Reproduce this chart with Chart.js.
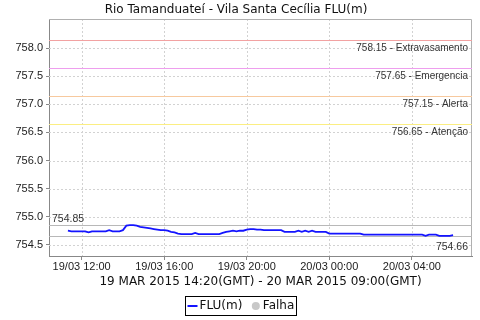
<!DOCTYPE html>
<html>
<head>
<meta charset="utf-8">
<script src="https://cdn.jsdelivr.net/npm/chart.js@4.4.0/dist/chart.umd.min.js"></script>
<style>
    html, body { margin: 0; padding: 0; background: #fff; }
    #wrap { width: 480px; height: 320px; }
</style>
</head>
<body>
<div id="wrap"><canvas id="fluChart" width="480" height="320"></canvas></div>
<script>
// LEITURAS - FLU(m) a cada 10 minutos, início 19/03 11:20 (hora local)
const startMinute = 11 * 60 + 20;
const stepMinutes = 10;
const fluValues = [
    754.75, 754.74, 754.74, 754.74, 754.74, 754.74, 754.72, 754.74, 754.74, 754.74,
    754.74, 754.74, 754.76, 754.74, 754.74, 754.74, 754.76, 754.84, 754.85, 754.85,
    754.84, 754.82, 754.81, 754.80, 754.79, 754.78, 754.77, 754.76, 754.76, 754.75,
    754.73, 754.72, 754.70, 754.69, 754.69, 754.69, 754.69, 754.71, 754.69, 754.69,
    754.69, 754.69, 754.69, 754.69, 754.69, 754.71, 754.73, 754.74, 754.75, 754.74,
    754.75, 754.75, 754.77, 754.78, 754.78, 754.77, 754.77, 754.76, 754.76, 754.76,
    754.76, 754.76, 754.76, 754.73, 754.73, 754.73, 754.73, 754.75, 754.73, 754.75,
    754.73, 754.75, 754.73, 754.73, 754.73, 754.73, 754.70, 754.70, 754.70, 754.70,
    754.70, 754.70, 754.70, 754.70, 754.70, 754.70, 754.68, 754.68, 754.68, 754.68,
    754.68, 754.68, 754.68, 754.68, 754.68, 754.68, 754.68, 754.68, 754.68, 754.68,
    754.68, 754.68, 754.68, 754.68, 754.66, 754.68, 754.68, 754.68, 754.66, 754.66,
    754.66, 754.66, 754.67
];
const falhaValues = [];

// EIXOS
const yTickValues = [754.5, 755.0, 755.5, 756.0, 756.5, 757.0, 757.5, 758.0];
const xTickValues = [720, 960, 1200, 1440, 1680];
const xTickLabels = ['19/03 12:00', '19/03 16:00', '19/03 20:00', '20/03 00:00', '20/03 04:00'];
const xMin = 625, xMax = 1855;
const yMin = 754.30, yMax = 758.52;

// COTAS DE ALERTA
const thresholdValues = [758.15, 757.65, 757.15, 756.65];
const thresholdNames = ['Extravasamento', 'Emergencia', 'Alerta', 'Atenção'];
const thresholdColors = ['#f2a2a2', '#ee9eee', '#f7c99e', '#fbee82'];

const chartTitle = 'Rio Tamanduateí - Vila Santa Cecília FLU(m)';
const chartSubtitle = '19 MAR 2015 14:20(GMT) - 20 MAR 2015 09:00(GMT)';

const fluPoints = fluValues.map((v, i) => ({ x: startMinute + i * stepMinutes, y: v }));

// grade tracejada, linhas de cota, máximo/mínimo e moldura
const markersPlugin = {
    id: 'markers',
    beforeDatasetsDraw(chart) {
        const { ctx, chartArea } = chart;
        const y = chart.scales.y;
        const x = chart.scales.x;
        ctx.save();

        ctx.strokeStyle = '#d2d2d2';
        ctx.lineWidth = 1;
        ctx.setLineDash([2, 2]);
        ctx.beginPath();
        xTickValues.forEach(v => {
            const px = Math.round(x.getPixelForValue(v)) + 0.5;
            ctx.moveTo(px, chartArea.top);
            ctx.lineTo(px, chartArea.bottom);
        });
        yTickValues.forEach(v => {
            const py = Math.round(y.getPixelForValue(v)) + 0.5;
            ctx.moveTo(chartArea.left, py);
            ctx.lineTo(chartArea.right, py);
        });
        ctx.stroke();
        ctx.setLineDash([]);

        // moldura superior / direita
        ctx.strokeStyle = '#b0b0b0';
        ctx.beginPath();
        ctx.moveTo(chartArea.left, chartArea.top + 0.5);
        ctx.lineTo(chartArea.right - 0.5, chartArea.top + 0.5);
        ctx.lineTo(chartArea.right - 0.5, chartArea.bottom);
        ctx.stroke();

        ctx.font = '10px "Liberation Sans"';
        ctx.fillStyle = '#333';
        ctx.textAlign = 'right';
        ctx.textBaseline = 'middle';
        thresholdValues.forEach((v, i) => {
            const py = Math.round(y.getPixelForValue(v)) + 0.5;
            ctx.strokeStyle = thresholdColors[i];
            ctx.beginPath();
            ctx.moveTo(chartArea.left, py);
            ctx.lineTo(chartArea.right, py);
            ctx.stroke();
            ctx.fillText(v.toFixed(2) + ' - ' + thresholdNames[i], chartArea.right - 4, py + 8);
        });

        // máximo e mínimo da série
        const maxV = Math.max(...fluValues);
        const minV = Math.min(...fluValues);
        const pMax = Math.round(y.getPixelForValue(maxV)) + 0.5;
        const pMin = Math.round(y.getPixelForValue(minV)) + 0.5;
        ctx.strokeStyle = '#b8b8b8';
        ctx.beginPath();
        ctx.moveTo(chartArea.left, pMax); ctx.lineTo(chartArea.right, pMax);
        ctx.moveTo(chartArea.left, pMin); ctx.lineTo(chartArea.right, pMin);
        ctx.stroke();

        ctx.font = '10.5px "Liberation Sans"';
        ctx.textBaseline = 'alphabetic';
        ctx.textAlign = 'left';
        ctx.fillText(maxV.toFixed(2), chartArea.left + 3, pMax - 4);
        ctx.textAlign = 'right';
        ctx.fillText(minV.toFixed(2), chartArea.right - 4, pMin + 13);
        ctx.restore();
    }
};

// legenda com moldura
const boxLegendPlugin = {
    id: 'boxLegend',
    afterDraw(chart) {
        const ctx = chart.ctx;
        const ds = chart.data.datasets;
        ctx.save();
        ctx.font = '12px "DejaVu Sans"';
        const w1 = ctx.measureText(ds[0].label).width;
        const w2 = ctx.measureText(ds[1].label).width;
        const boxW = Math.round(2 + 10 + 2 + w1 + 9.5 + 8 + 3 + w2 + 2);
        const left = Math.round((chart.width - boxW) / 2) + 0.5;
        const top = 296.5, h = 19, cy = 306;

        ctx.strokeStyle = '#000';
        ctx.lineWidth = 1;
        ctx.strokeRect(left, top, boxW, h);

        let x = left + 2;
        ctx.strokeStyle = ds[0].borderColor;
        ctx.lineWidth = 2;
        ctx.beginPath();
        ctx.moveTo(x, cy); ctx.lineTo(x + 10, cy);
        ctx.stroke();
        x += 12;
        ctx.fillStyle = '#111';
        ctx.textBaseline = 'middle';
        ctx.fillText(ds[0].label, x, cy);
        x += w1 + 9.5;
        ctx.fillStyle = ds[1].backgroundColor;
        ctx.beginPath();
        ctx.arc(x + 4, cy, 4, 0, Math.PI * 2);
        ctx.fill();
        x += 11;
        ctx.fillStyle = '#111';
        ctx.fillText(ds[1].label, x, cy);
        ctx.restore();
    }
};

const tickFont = { family: 'Liberation Sans', size: 11 };

new Chart(document.getElementById('fluChart'), {
    type: 'line',
    data: {
        datasets: [
            {
                label: 'FLU(m)',
                data: fluPoints,
                borderColor: '#1414ff',
                backgroundColor: '#1414ff',
                borderWidth: 1.8,
                pointRadius: 0,
                tension: 0
            },
            {
                label: 'Falha',
                data: falhaValues,
                borderColor: '#c8c8c8',
                backgroundColor: '#c8c8c8',
                showLine: false,
                pointRadius: 4
            }
        ]
    },
    options: {
        responsive: false,
        animation: false,
        devicePixelRatio: 1,
        layout: { padding: { left: 0, right: 8, top: 0, bottom: 30.6 } },
        scales: {
            x: {
                type: 'linear',
                min: xMin,
                max: xMax,
                afterBuildTicks: s => { s.ticks = xTickValues.map(v => ({ value: v })); },
                afterFit: s => { s.height = 19; },
                ticks: {
                    font: tickFont,
                    color: '#222',
                    padding: 0,
                    maxRotation: 0,
                    autoSkip: false,
                    callback: (v, i) => xTickLabels[i]
                },
                grid: { drawOnChartArea: false, tickColor: '#888', tickLength: 4 },
                border: { color: '#888' }
            },
            y: {
                type: 'linear',
                min: yMin,
                max: yMax,
                afterBuildTicks: s => { s.ticks = yTickValues.map(v => ({ value: v })); },
                afterFit: s => { s.width = 49; },
                ticks: {
                    font: tickFont,
                    color: '#222',
                    padding: 3,
                    callback: v => v.toFixed(1)
                },
                grid: { drawOnChartArea: false, tickColor: '#888', tickLength: 3 },
                border: { color: '#888' }
            }
        },
        plugins: {
            legend: { display: false },
            tooltip: { enabled: false },
            title: {
                display: true,
                text: chartTitle,
                color: '#111',
                font: { family: 'DejaVu Sans', size: 12, weight: 'normal' },
                padding: { top: 2.5, bottom: 2.1 }
            },
            subtitle: {
                display: true,
                text: chartSubtitle,
                position: 'bottom',
                fullSize: false,
                color: '#111',
                font: { family: 'DejaVu Sans', size: 12, weight: 'normal' },
                padding: { top: 0, bottom: 0 }
            }
        }
    },
    plugins: [markersPlugin, boxLegendPlugin]
});
</script>
</body>
</html>
